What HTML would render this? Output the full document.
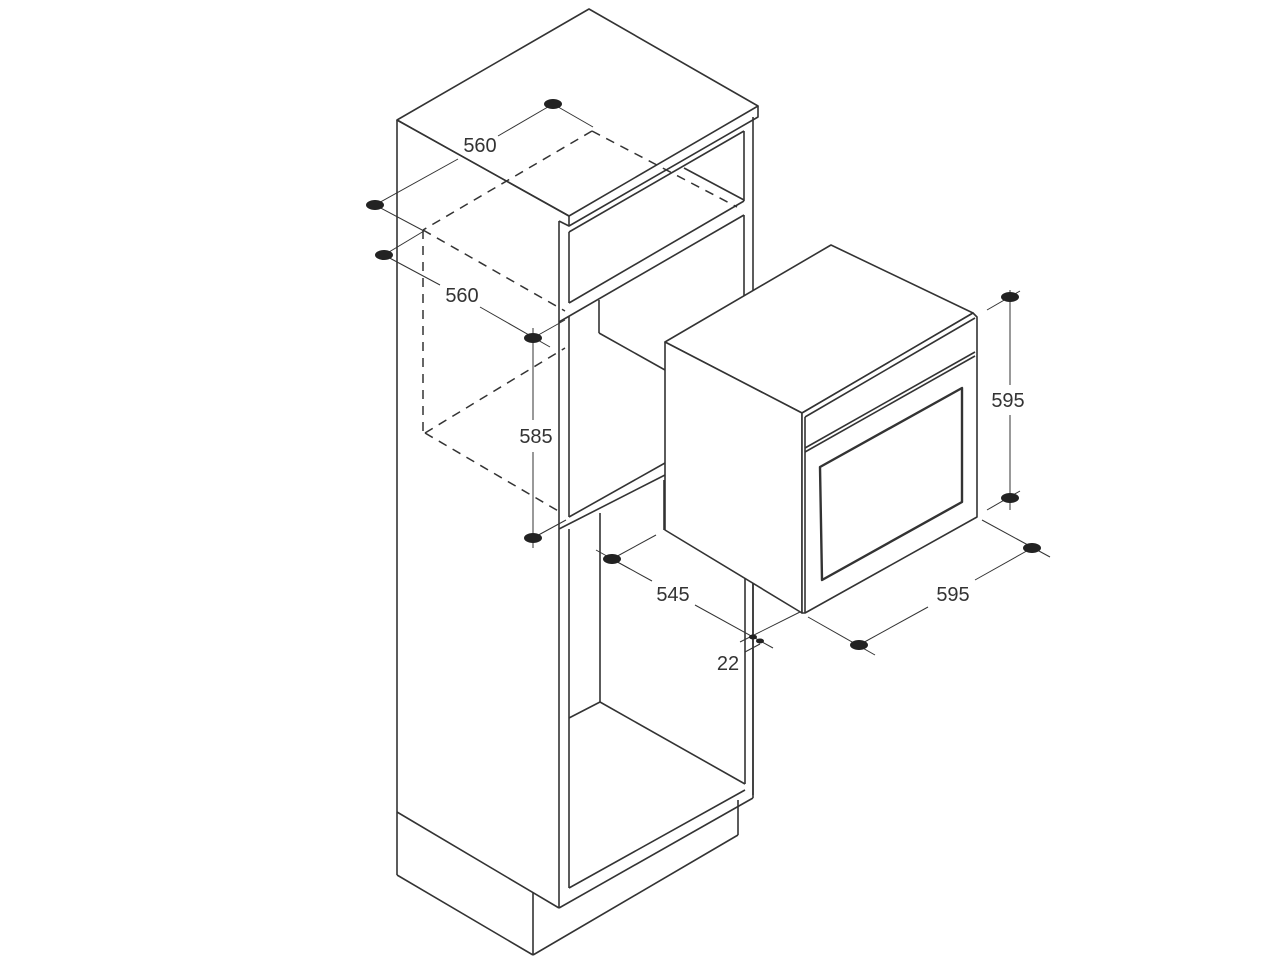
<!DOCTYPE html>
<html><head><meta charset="utf-8"><style>
html,body{margin:0;padding:0;background:#fff}
svg{display:block}
text{font-family:"Liberation Sans",sans-serif;font-size:20px;fill:#333;text-anchor:middle}
</style></head><body>
<svg width="1280" height="960" viewBox="0 0 1280 960" xmlns="http://www.w3.org/2000/svg">
<g fill="none" stroke="#333" stroke-width="1.6" stroke-linejoin="round">
<!-- top slab -->
<polygon points="397,120 589,9 758,106 569,216" fill="#fff"/>
<polyline points="569,216 569,226 758,117 758,106"/>
<polyline points="397,120 397,812"/>
<polyline points="397,120 569,216"/>
<!-- front frame -->
<polyline points="559,221 569,226"/>
<line x1="559" y1="221" x2="559" y2="908"/>
<line x1="753" y1="117" x2="753" y2="795"/>
<line x1="569" y1="232" x2="569" y2="303"/>
<line x1="744" y1="131" x2="744" y2="201"/>
<!-- top cubby / drawer -->
<line x1="569" y1="232" x2="744" y2="131"/>
<line x1="569" y1="303" x2="744" y2="201"/>
<line x1="684" y1="168" x2="744" y2="200"/>
<line x1="559" y1="322" x2="744" y2="215"/>
<line x1="744" y1="215" x2="744" y2="330"/>
<!-- middle cavity -->
<line x1="569" y1="316" x2="569" y2="517"/>
<line x1="599" y1="300" x2="599" y2="333"/>
<line x1="599" y1="333" x2="665" y2="370"/>
<line x1="569" y1="517" x2="665" y2="463"/>
<line x1="559" y1="529" x2="665" y2="475"/>
<!-- lower opening -->
<line x1="569" y1="529" x2="569" y2="888"/>
<line x1="600" y1="513" x2="600" y2="702"/>
<line x1="569" y1="718" x2="600" y2="702"/>
<line x1="600" y1="702" x2="745" y2="784"/>
<line x1="745" y1="575" x2="745" y2="784"/>
<line x1="569" y1="888" x2="745" y2="790"/>
<line x1="559" y1="908" x2="753" y2="798"/>
<line x1="753" y1="577" x2="753" y2="798"/>
<!-- plinth -->
<line x1="397" y1="812" x2="559" y2="908"/>
<line x1="397" y1="812" x2="397" y2="875"/>
<line x1="397" y1="875" x2="533" y2="955"/>
<line x1="533" y1="893" x2="533" y2="955"/>
<line x1="738" y1="800" x2="738" y2="835"/>
<line x1="738" y1="835" x2="533" y2="955"/>
<!-- oven -->
<polygon points="665,342 831,245 973,313 802,413" fill="#fff"/>
<polygon points="665,342 802,413 802,613 665,530" fill="#fff"/>
<polygon points="802,413 973,313 977,317 977,517 805,613 802,613" fill="#fff"/>
<line x1="805" y1="417" x2="805" y2="613"/>
<line x1="805" y1="417" x2="975" y2="318"/>
<line x1="805" y1="448" x2="975" y2="352"/>
<line x1="805" y1="452" x2="975" y2="356"/>
<polygon points="820,467 962,388 962,502 822,580" stroke-width="2.4"/>
<line x1="664" y1="480" x2="664" y2="530"/>
</g>
<!-- dashed -->
<g fill="none" stroke="#333" stroke-width="1.5" stroke-dasharray="9,7">
<line x1="592" y1="131" x2="737" y2="207"/>
<line x1="592" y1="131" x2="423" y2="230"/>
<line x1="423" y1="230" x2="565" y2="311"/>
<line x1="423" y1="230" x2="423" y2="433"/>
<line x1="425" y1="433" x2="560" y2="512"/>
<line x1="425" y1="433" x2="565" y2="348"/>
</g>
<!-- dimension lines -->
<g fill="none" stroke="#333" stroke-width="1">
<line x1="553" y1="104" x2="498" y2="136"/><line x1="458" y1="159" x2="375" y2="205"/>
<line x1="553" y1="104" x2="593" y2="127"/>
<line x1="375" y1="205" x2="424" y2="231"/>
<line x1="384" y1="255" x2="424" y2="231"/>
<line x1="384" y1="255" x2="440" y2="285"/><line x1="480" y1="307" x2="550" y2="347"/>
<line x1="533" y1="328" x2="533" y2="420"/><line x1="533" y1="452" x2="533" y2="548"/>
<line x1="533" y1="338" x2="565" y2="320"/>
<line x1="533" y1="538" x2="566" y2="520"/>
<line x1="1010" y1="290" x2="1010" y2="385"/><line x1="1010" y1="415" x2="1010" y2="510"/>
<line x1="987" y1="310" x2="1020" y2="291"/><line x1="987" y1="510" x2="1020" y2="491"/>
<line x1="982" y1="520" x2="1050" y2="557"/>
<line x1="1032" y1="548" x2="975" y2="580"/><line x1="928" y1="607" x2="859" y2="645"/>
<line x1="808" y1="617" x2="875" y2="655"/>
<line x1="596" y1="550" x2="630" y2="569"/>
<line x1="612" y1="559" x2="656" y2="535"/>
<line x1="612" y1="559" x2="652" y2="581"/><line x1="695" y1="605" x2="773" y2="648"/>
<line x1="740" y1="642" x2="800" y2="612"/>
<line x1="745" y1="652" x2="760" y2="644"/>
</g>
<g fill="#222">
<ellipse cx="553" cy="104" rx="9" ry="5"/>
<ellipse cx="375" cy="205" rx="9" ry="5"/>
<ellipse cx="384" cy="255" rx="9" ry="5"/>
<ellipse cx="533" cy="338" rx="9" ry="5"/>
<ellipse cx="533" cy="538" rx="9" ry="5"/>
<ellipse cx="1010" cy="297" rx="9" ry="5"/>
<ellipse cx="1010" cy="498" rx="9" ry="5"/>
<ellipse cx="1032" cy="548" rx="9" ry="5"/>
<ellipse cx="859" cy="645" rx="9" ry="5"/>
<ellipse cx="612" cy="559" rx="9" ry="5"/>
<ellipse cx="753" cy="637" rx="4" ry="2.5"/>
<ellipse cx="760" cy="641" rx="4" ry="2.5"/>
</g>
<text x="480" y="152">560</text>
<text x="462" y="302">560</text>
<text x="536" y="443">585</text>
<text x="1008" y="407">595</text>
<text x="953" y="601">595</text>
<text x="673" y="601">545</text>
<text x="728" y="670">22</text>
</svg>
</body></html>
